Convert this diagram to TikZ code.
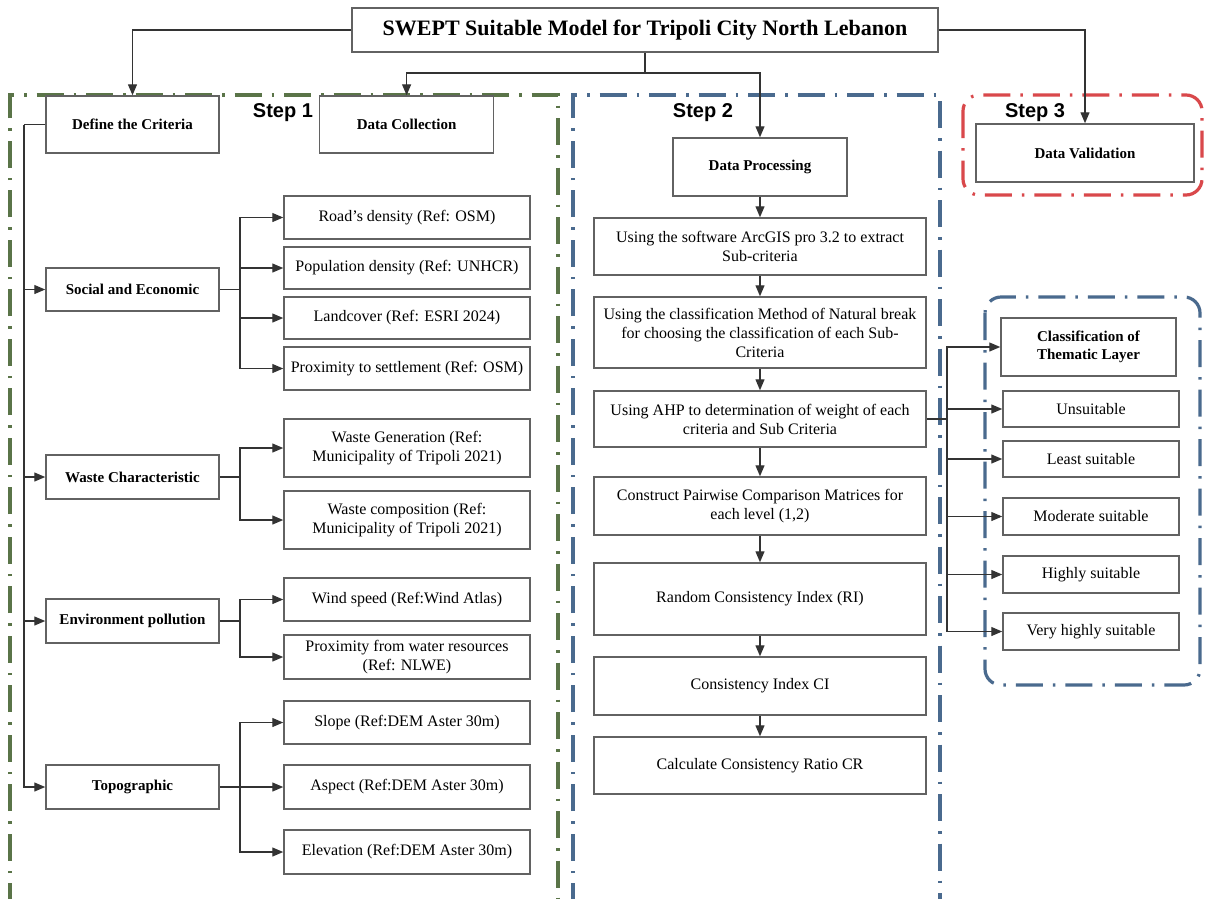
\documentclass[tikz,border=0pt]{standalone}
\usepackage{fontspec}
\setmainfont{Liberation Serif}
\newfontfamily\stepfont{Liberation Sans}
\usetikzlibrary{arrows.meta}
\definecolor{gline}{HTML}{5A7448}
\definecolor{bline}{HTML}{4A6A8E}
\definecolor{rline}{HTML}{D9484B}
\definecolor{boxc}{HTML}{626262}
\begin{document}
\begin{tikzpicture}[x=1pt,y=-1pt,
  box/.style={draw=boxc,line width=1.5pt,fill=white,align=center,inner sep=1pt,font=\fontsize{16}{19}\selectfont},
  bbox/.style={box,font=\fontsize{15}{18}\selectfont\bfseries},
  conn/.style={draw=black!80,line width=1.3pt},
  arr/.style={conn,-{Triangle[length=11pt,width=9pt]}},
  region/.style={line width=3.2pt,dash pattern=on 27pt off 10pt on 2.5pt off 10pt},
  steplbl/.style={font=\stepfont\fontsize{20}{20}\selectfont\bfseries,inner sep=0pt}]
\useasboundingbox (0,0) rectangle (1205,898);
\clip (0,0) rectangle (1205,898);
\fill[white] (0,0) rectangle (1205,898);

% regions
\draw[region,gline] (10,910) -- (10,95) -- (558,95) -- (558,910);
\draw[region,bline] (573,910) -- (573,95) -- (940,95) -- (940,910);
\draw[region,rline,rounded corners=16pt] (963,95) rectangle (1202,195);
\draw[region,bline,rounded corners=16pt] (985,297) rectangle (1200,685);

% step labels
\node[steplbl] (st1) at (283,113) {Step 1};
\node[steplbl] (st2) at (703,113) {Step 2};
\node[steplbl] (st3) at (1035,113) {Step 3};

% title
\node[box,font=\fontsize{22}{24}\selectfont\bfseries,minimum width=586pt,minimum height=44pt] (title) at (645,30) {SWEPT Suitable Model for Tripoli City North Lebanon};

% main step boxes
\node[bbox,minimum width=173pt,minimum height=57pt] (define) at (132.5,124.5) {Define the Criteria};
\node[bbox,minimum width=174pt,minimum height=57pt] (collect) at (406.6,124.5) {Data Collection};
\node[bbox,minimum width=174pt,minimum height=58pt] (proc) at (760,167) {Data Processing};
\node[bbox,minimum width=218pt,minimum height=58pt] (valid) at (1085,153) {Data Validation};

% categories
\node[bbox,minimum width=173pt,minimum height=43pt] (social) at (132.5,289.5) {Social and Economic};
\node[bbox,minimum width=173pt,minimum height=44pt] (waste) at (132.5,477) {Waste Characteristic};
\node[bbox,minimum width=173pt,minimum height=44pt] (env) at (132.5,621) {Environment pollution};
\node[bbox,minimum width=173pt,minimum height=44pt] (topo) at (132.5,787) {Topographic};

% sub criteria
\node[box,minimum width=246pt,minimum height=43pt] (road) at (407,217.5) {Road's density (Ref: OSM)};
\node[box,minimum width=246pt,minimum height=42pt] (pop) at (407,268) {Population density (Ref: UNHCR)};
\node[box,minimum width=246pt,minimum height=42pt] (land) at (407,318) {Landcover (Ref: ESRI 2024)};
\node[box,minimum width=246pt,minimum height=43pt] (prox) at (407,368.5) {Proximity to settlement (Ref: OSM)};
\node[box,minimum width=246pt,minimum height=58pt] (wgen) at (407,448) {Waste Generation (Ref:\\Municipality of Tripoli 2021)};
\node[box,minimum width=246pt,minimum height=58pt] (wcomp) at (407,520) {Waste composition (Ref:\\Municipality of Tripoli 2021)};
\node[box,minimum width=246pt,minimum height=43pt] (wind) at (407,599.5) {Wind speed (Ref:Wind Atlas)};
\node[box,minimum width=246pt,minimum height=44pt] (water) at (407,657) {Proximity from water resources\\(Ref: NLWE)};
\node[box,minimum width=246pt,minimum height=43pt] (slope) at (407,722.5) {Slope (Ref:DEM Aster 30m)};
\node[box,minimum width=246pt,minimum height=44pt] (aspect) at (407,787) {Aspect (Ref:DEM Aster 30m)};
\node[box,minimum width=246pt,minimum height=44pt] (elev) at (407,852) {Elevation (Ref:DEM Aster 30m)};

% step 2 chain
\node[box,minimum width=332pt,minimum height=57pt] (s1) at (760,246.5) {Using the software ArcGIS pro 3.2 to extract\\Sub-criteria};
\node[box,minimum width=332pt,minimum height=71pt] (s2) at (760,332.5) {Using the classification Method of Natural break\\for choosing the classification of each Sub-\\Criteria};
\node[box,minimum width=332pt,minimum height=56pt] (s3) at (760,419) {Using AHP to determination of weight of each\\criteria and Sub Criteria};
\node[box,minimum width=332pt,minimum height=58pt] (s4) at (760,506) {Construct Pairwise Comparison Matrices for\\each level (1,2)};
\node[box,minimum width=332pt,minimum height=72pt] (s5) at (760,599) {Random Consistency Index (RI)};
\node[box,minimum width=332pt,minimum height=58pt] (s6) at (760,686) {Consistency Index CI};
\node[box,minimum width=332pt,minimum height=57pt] (s7) at (760,765.5) {Calculate Consistency Ratio CR};

% classification panel
\node[bbox,minimum width=175pt,minimum height=58pt] (ct) at (1088.5,347) {Classification of\\Thematic Layer};
\node[box,minimum width=176pt,minimum height=36pt] (u) at (1091,409) {Unsuitable};
\node[box,minimum width=176pt,minimum height=36pt] (least) at (1091,459) {Least suitable};
\node[box,minimum width=176pt,minimum height=37pt] (mod) at (1091,516.5) {Moderate suitable};
\node[box,minimum width=176pt,minimum height=37pt] (high) at (1091,574.5) {Highly suitable};
\node[box,minimum width=176pt,minimum height=37pt] (very) at (1091,631.5) {Very highly suitable};

% title connectors
\coordinate (j) at (645,73);
\draw[arr] (title.west) -| (define.north);
\draw[arr] (title.east) -| (valid.north);
\draw[conn] (title.south) -- (j);
\draw[arr] (j) -| (collect.north);
\draw[arr] (j) -| (proc.north);

% left trunk
\coordinate (lt) at (24,124.5);
\draw[conn] (define.west) -- (lt);
\draw[arr] (lt) |- (topo.west);
\draw[arr] (lt |- social.west) -- (social.west);
\draw[arr] (lt |- waste.west) -- (waste.west);
\draw[arr] (lt |- env.west) -- (env.west);

% branches
\coordinate (bs) at (240,289.5);
\draw[conn] (social.east) -- (bs);
\draw[arr] (bs) |- (road.west);
\draw[arr] (bs) |- (prox.west);
\draw[arr] (bs |- pop.west) -- (pop.west);
\draw[arr] (bs |- land.west) -- (land.west);

\coordinate (bw) at (240,477);
\draw[conn] (waste.east) -- (bw);
\draw[arr] (bw) |- (wgen.west);
\draw[arr] (bw) |- (wcomp.west);

\coordinate (be) at (240,621);
\draw[conn] (env.east) -- (be);
\draw[arr] (be) |- (wind.west);
\draw[arr] (be) |- (water.west);

\coordinate (bt) at (240,787);
\draw[arr] (topo.east) -- (aspect.west);
\draw[arr] (bt) |- (slope.west);
\draw[arr] (bt) |- (elev.west);

% step 2 chain arrows
\draw[arr] (proc.south) -- (s1.north);
\draw[arr] (s1.south) -- (s2.north);
\draw[arr] (s2.south) -- (s3.north);
\draw[arr] (s3.south) -- (s4.north);
\draw[arr] (s4.south) -- (s5.north);
\draw[arr] (s5.south) -- (s6.north);
\draw[arr] (s6.south) -- (s7.north);

% classification connectors
\coordinate (ca) at (947,419);
\draw[conn] (s3.east) -- (ca);
\draw[arr] (ca) |- (ct.west);
\draw[arr] (ca) |- (very.west);
\draw[arr] (ca |- u.west) -- (u.west);
\draw[arr] (ca |- least.west) -- (least.west);
\draw[arr] (ca |- mod.west) -- (mod.west);
\draw[arr] (ca |- high.west) -- (high.west);
\end{tikzpicture}
\end{document}
